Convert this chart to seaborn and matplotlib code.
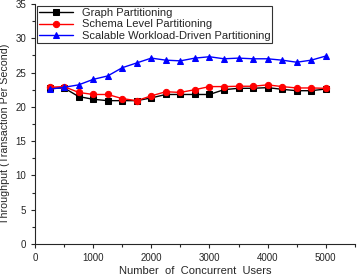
import pandas as pd
import numpy as np
import seaborn as sns
import matplotlib.pyplot as plt
from matplotlib.ticker import MultipleLocator

# data
users = [250, 500, 750, 1000, 1250, 1500, 1750, 2000, 2250, 2500,
         2750, 3000, 3250, 3500, 3750, 4000, 4250, 4500, 4750, 5000]
graph = [22.7, 22.75, 21.5, 21.1, 20.9, 20.9, 20.9, 21.3, 21.8, 21.8,
         21.8, 21.8, 22.5, 22.7, 22.7, 22.8, 22.55, 22.35, 22.35, 22.6]
schema = [22.85, 22.95, 22.1, 21.8, 21.8, 21.2, 20.9, 21.6, 22.2, 22.1,
          22.5, 22.95, 22.95, 23.0, 23.0, 23.2, 22.95, 22.75, 22.75, 22.7]
scalable = [22.56, 22.85, 23.2, 24.0, 24.5, 25.7, 26.4, 27.1, 26.8, 26.7,
            27.1, 27.3, 27.0, 27.1, 27.0, 27.0, 26.8, 26.5, 26.8, 27.4]

series_names = ["Graph Partitioning", "Schema Level Partitioning",
                "Scalable Workload-Driven Partitioning"]
colors = ["black", "red", "blue"]
markers = ["s", "o", "^"]

sns.set_style("ticks")
plt.rcParams['font.family'] = ['Liberation Sans', 'DejaVu Sans']

fig = plt.figure(figsize=(3.57, 2.78), dpi=100)
ax = fig.add_axes([0.098, 0.122, 0.896, 0.864])

for name, vals, c, m in zip(series_names, [graph, schema, scalable], colors, markers):
    df = pd.DataFrame({"users": users, "tps": vals})
    sns.lineplot(data=df, x="users", y="tps", ax=ax, color=c, marker=m,
                 markersize=4.5, linewidth=1, markeredgecolor=c, label=name)

ax.set_xlim(0, 5500)
ax.set_ylim(0, 35)
ax.set_xticks([0, 1000, 2000, 3000, 4000, 5000])
ax.xaxis.set_minor_locator(MultipleLocator(500))
ax.yaxis.set_minor_locator(MultipleLocator(2.5))
ax.tick_params(which="major", direction="out", length=3, labelsize=7, width=0.8)
ax.tick_params(which="minor", direction="out", length=2, width=0.8)
sns.despine(ax=ax)
ax.set_xlabel("Number  of  Concurrent  Users", fontsize=8, labelpad=2)
ax.set_ylabel("Throughput (Transaction Per Second)", fontsize=7.7)
ax.yaxis.set_label_coords(-0.078, 0.46)

leg = ax.legend(loc="upper left", fontsize=8, frameon=True, fancybox=False,
                edgecolor="black", borderpad=0.2, labelspacing=0.1,
                handlelength=3, borderaxespad=0.2)
leg.get_frame().set_linewidth(0.8)

fig.savefig("out.png", dpi=100)
